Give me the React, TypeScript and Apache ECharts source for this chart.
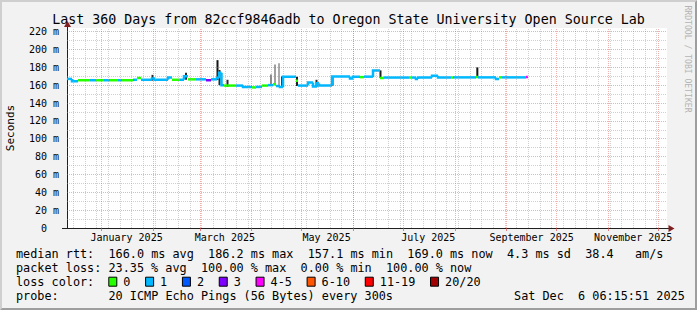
import React, { useEffect, useRef } from 'react';
import * as echarts from 'echarts';

const DAY = 86400000;
const START = Date.UTC(2024, 11, 11, 6, 15, 51);
const END = Date.UTC(2025, 11, 6, 6, 15, 51);

// Median RTT as step segments: start (days after START), median (ms), loss bucket index
const segStartDay = [
  0, 3, 6.6, 13.8, 17.4, 22.2, 25.8, 30.6, 33, 39.6, 42, 44.4, 51, 52.8, 60.6, 63, 67.8, 70.2, 72.6, 77.4,
  83.4, 86.4, 90, 91.2, 92.7, 94.2, 101.4, 105.6, 111, 113.4, 117, 120.6, 123.6, 125.4, 127.8, 129.6, 137.4,
  138.6, 144.6, 147.6, 150, 151.2, 159, 169.8, 171.6, 175.8, 178.2, 183.6, 187.8, 190.2, 205.2, 207, 209.4,
  210.6, 219, 222.6, 230.4, 231.6, 245.4, 246.6, 257.4, 259.2, 261, 275.4,
];
const segMedianMs = [
  167, 164.5, 165.5, 165.5, 165.5, 165.5, 165.5, 165.5, 165.5, 166, 168, 166, 167.5, 166, 168.5, 166, 166, 170, 166.5, 166.5,
  165.5, 166.5, 168, 174, 160, 159.5, 159.5, 158, 157.5, 158, 159.5, 160, 161, 159, 158, 169.5, 165,
  159.5, 163, 158.5, 162, 159.5, 169.7, 167.5, 169.5, 169, 169.5, 176.5, 168, 168.5, 168.5, 168.5, 167,
  168.5, 170.5, 168.7, 168.7, 168.7, 169, 168.7, 166.8, 168.7, 168.7, 169,
];
const segLossBucket = [
  1, 1, 0, 1, 0, 1, 0, 1, 0, 1, 0, 1, 1, 1, 1, 0, 1, 1, 0, 1,
  3, 1, 1, 1, 1, 0, 1, 1, 0, 1, 0, 1, 0, 1, 1, 1, 0,
  1, 1, 1, 1, 1, 1, 1, 1, 0, 1, 1, 0, 1, 0, 1, 1,
  1, 1, 1, 0, 1, 0, 1, 1, 0, 1, 4,
];
const dataEndDay = 276.6;

// Smoke (ping spread) spikes: day, low ms, high ms, density (0 light .. 1 dark)
const smokeDay = [51.3, 71.4, 90.3, 91.5, 96.3, 122.4, 124.8, 127.2, 129, 138, 149.7, 159.3, 183.6, 188.1, 246.2];
const smokeLoMs = [165, 166, 166, 160, 158, 160, 160, 158, 158, 159, 158, 159.5, 169, 168, 168];
const smokeHiMs = [171.5, 174, 188, 177, 166, 172, 183, 184.6, 170, 169.5, 166, 169.7, 176.5, 176.5, 180];
const smokeShade = [0.9, 0.9, 1, 0.9, 0.9, 0.45, 0.35, 0.3, 0.9, 0.95, 0.9, 0.95, 0.95, 0.95, 1];

const yTicks = [0, 20, 40, 60, 80, 100, 120, 140, 160, 180, 200, 220];
const yMinor = [10, 30, 50, 70, 90, 110, 130, 150, 170, 190, 210];
const labelMonths = [0, 2, 4, 6, 8, 10];
const monthLabels = ['January 2025', 'March 2025', 'May 2025', 'July 2025', 'September 2025', 'November 2025'];

const lossLabels = ['0', '1', '2', '3', '4-5', '6-10', '11-19', '20/20'];
const lossColors = ['#26ff00', '#00b8ff', '#0059ff', '#7e00ff', '#ff00ff', '#ff5500', '#ff0000', '#a10000'];

const titleText = 'Last 360 Days from 82ccf9846adb to Oregon State University Open Source Lab';
const statsLine1 = 'median rtt:  166.0 ms avg  186.2 ms max  157.1 ms min  169.0 ms now  4.3 ms sd  38.4   am/s';
const statsLine2 = 'packet loss: 23.35 % avg  100.00 % max  0.00 % min  100.00 % now';
const probeLabel = 'probe:';
const probeText = '20 ICMP Echo Pings (56 Bytes) every 300s';
const dateText = 'Sat Dec  6 06:15:51 2025';

const MONO = '"DejaVu Sans Mono", monospace';
const LEG_FS = 11.82;
const CW = 7.115;
const LEG_X = 16;

function monoPieces(line: string, col0: number, y: number) {
  const out: any[] = [];
  const re = /\S+(?: \S+)*/g;
  let m: RegExpExecArray | null;
  while ((m = re.exec(line))) {
    out.push({
      type: 'text',
      x: LEG_X + (col0 + m.index) * CW,
      y,
      style: { text: m[0], fontFamily: MONO, fontSize: LEG_FS, fill: '#000', verticalAlign: 'middle', align: 'left' },
    });
  }
  return out;
}

export default function App() {
  const ref = useRef<HTMLDivElement>(null);
  useEffect(() => {
    if (!ref.current) return;
    const chart = echarts.init(ref.current, undefined, { renderer: 'svg' });

    const medianData = segStartDay.map((d, i) => {
      const end = i + 1 < segStartDay.length ? segStartDay[i + 1] : dataEndDay;
      return [
        START + d * DAY,
        START + end * DAY,
        segMedianMs[i],
        segLossBucket[i],
        i > 0 ? segMedianMs[i - 1] : null,
        i > 0 ? segLossBucket[i - 1] : -1,
      ];
    });
    const smokeData = smokeDay.map((d, i) => [START + d * DAY, smokeLoMs[i], smokeHiMs[i], smokeShade[i]]);

    const monthStarts: number[] = [];
    for (let m = 0; m < 12; m++) {
      const t = Date.UTC(2025, m, 1);
      if (t > START && t < END) monthStarts.push(t);
    }
    const weeks: number[] = [];
    for (let t = Date.UTC(2024, 11, 15); t < END; t += 7 * DAY) weeks.push(t);
    const labelTimes = labelMonths.map((m) => Date.UTC(2025, m, 16));

    const minorStyle = { color: 'rgba(150,150,150,0.45)', width: 1, type: [1, 1] };
    const majorStyle = { color: 'rgba(222,79,79,0.45)', width: 1, type: [1, 1] };
    const gridLines: any[] = [
      ...yMinor.map((v) => ({ yAxis: v, lineStyle: minorStyle })),
      ...weeks.map((t) => ({ xAxis: t, lineStyle: minorStyle })),
      ...yTicks.filter((v) => v > 0).map((v) => ({ yAxis: v, lineStyle: majorStyle })),
      ...monthStarts.map((t) => ({ xAxis: t, lineStyle: majorStyle })),
    ];

    const lossEls: any[] = [];
    let bx = 108.3;
    const lossY = 281.7;
    lossLabels.forEach((lab, i) => {
      lossEls.push({
        type: 'rect',
        shape: { x: bx + 0.5, y: lossY - 4.5, width: 8, height: 9 },
        style: { fill: lossColors[i], stroke: '#000', lineWidth: 1 },
      });
      lossEls.push({
        type: 'text',
        x: bx + 15,
        y: lossY,
        style: { text: lab, fontFamily: MONO, fontSize: LEG_FS, fill: '#000', verticalAlign: 'middle' },
      });
      bx = bx + 15 + lab.length * CW + 14.7;
    });

    const W = 697;
    const H = 310;
    const graphics: any[] = [
      { type: 'polygon', shape: { points: [[0, 0], [W, 0], [W - 2, 2], [2, 2], [2, H - 2], [0, H]] }, style: { fill: '#cfcfcf' }, z: 10 },
      { type: 'polygon', shape: { points: [[0, H], [W, H], [W, 0], [W - 2, 2], [W - 2, H - 2], [2, H - 2]] }, style: { fill: '#9e9e9e' }, z: 10 },
      {
        type: 'text', x: 348.5, y: 19,
        style: { text: titleText, fontFamily: MONO, fontSize: 13.3, fill: '#000', align: 'center', verticalAlign: 'middle' },
      },
      {
        type: 'text', x: 10.5, y: 128, rotation: Math.PI / 2,
        style: { text: 'Seconds', fontFamily: MONO, fontSize: 11, fill: '#000', align: 'center', verticalAlign: 'middle' },
      },
      {
        type: 'text', x: 688, y: 59, rotation: -Math.PI / 2,
        style: { text: 'RRDTOOL / TOBI OETIKER', fontFamily: MONO, fontSize: 8.1, fill: '#b4b4b4', align: 'center', verticalAlign: 'middle' },
      },
      { type: 'line', shape: { x1: 67.5, y1: 28, x2: 67.5, y2: 23 }, style: { stroke: '#1f1f1f', lineWidth: 1 } },
      { type: 'line', shape: { x1: 62, y1: 228.5, x2: 67, y2: 228.5 }, style: { stroke: '#1f1f1f', lineWidth: 1 } },
      { type: 'line', shape: { x1: 667, y1: 228.5, x2: 670, y2: 228.5 }, style: { stroke: '#1f1f1f', lineWidth: 1 } },
      { type: 'polygon', shape: { points: [[67.5, 21], [64, 27], [71, 27]] }, style: { fill: '#801f1f' }, z: 20 },
      { type: 'polygon', shape: { points: [[674.5, 228.5], [668.5, 225], [668.5, 232]] }, style: { fill: '#801f1f' }, z: 20 },
      ...monoPieces(statsLine1, 0, 254.3),
      ...monoPieces(statsLine2, 0, 267.7),
      ...monoPieces('loss color:', 0, lossY),
      ...lossEls,
      ...monoPieces(probeLabel, 0, 295.7),
      ...monoPieces(probeText, 13, 295.7),
      ...monoPieces(dateText, 70, 295.7),
    ];

    chart.setOption({
      animation: false,
      backgroundColor: '#f2f2f2',
      grid: { left: 67, top: 28, width: 600, height: 200, show: true, backgroundColor: '#ffffff', borderWidth: 0 },
      xAxis: {
        type: 'value',
        min: START,
        max: END,
        axisLine: { show: true, lineStyle: { color: '#1f1f1f', width: 1 } },
        axisTick: { show: true, customValues: monthStarts, length: 3, lineStyle: { color: 'rgba(222,79,79,0.7)' } },
        splitLine: { show: false },
        axisLabel: {
          customValues: labelTimes,
          margin: 4,
          fontFamily: MONO,
          fontSize: 10,
          color: '#000',
          hideOverlap: false,
          formatter: (v: number) => {
            const i = labelTimes.indexOf(v);
            return i >= 0 ? monthLabels[i] : '';
          },
        },
      },
      yAxis: {
        type: 'value',
        min: 0,
        max: 224,
        axisLine: { show: true, lineStyle: { color: '#1f1f1f', width: 1 } },
        axisTick: { show: false },
        splitLine: { show: false },
        axisLabel: {
          customValues: yTicks,
          margin: 8,
          fontFamily: MONO,
          fontSize: 10,
          color: '#000',
          formatter: (v: number) => (v === 0 ? '{z|0}' : `${v} m`),
          rich: { z: { padding: [0, 12, 0, 0], fontFamily: MONO, fontSize: 10, color: '#000' } },
        },
      },
      series: [
        {
          type: 'line',
          data: [],
          z: 1,
          silent: true,
          markLine: {
            silent: true,
            symbol: ['none', 'none'],
            label: { show: false },
            emphasis: { disabled: true },
            animation: false,
            data: gridLines,
          },
        },
        {
          type: 'custom',
          z: 2,
          silent: true,
          data: smokeData,
          encode: { x: 0, y: [1, 2] },
          renderItem: (params: any, api: any) => {
            const top = api.coord([api.value(0), api.value(2)]);
            const bot = api.coord([api.value(0), api.value(1)]);
            const w = api.size([DAY * 1.2, 0])[0];
            const g = Math.round(235 - 215 * api.value(3));
            return {
              type: 'rect',
              shape: { x: top[0] - w / 2, y: top[1], width: w, height: bot[1] - top[1] },
              style: { fill: `rgb(${g},${g},${g})` },
            };
          },
        },
        {
          type: 'custom',
          z: 3,
          silent: true,
          data: medianData,
          encode: { x: [0, 1], y: 2 },
          renderItem: (params: any, api: any) => {
            const bucket = api.value(3);
            const pts: number[][] = [];
            const prevMs = api.value(4);
            if (api.value(5) === bucket && !isNaN(prevMs)) pts.push(api.coord([api.value(0), prevMs]));
            pts.push(api.coord([api.value(0), api.value(2)]));
            pts.push(api.coord([api.value(1), api.value(2)]));
            return {
              type: 'polyline',
              shape: { points: pts },
              style: { stroke: lossColors[bucket], lineWidth: 2.5, fill: null },
            };
          },
        },
      ],
      graphic: graphics,
    });
    return () => chart.dispose();
  }, []);
  return <div ref={ref} style={{ position: 'fixed', left: 0, top: 0, width: 697, height: 310 }} />;
}
